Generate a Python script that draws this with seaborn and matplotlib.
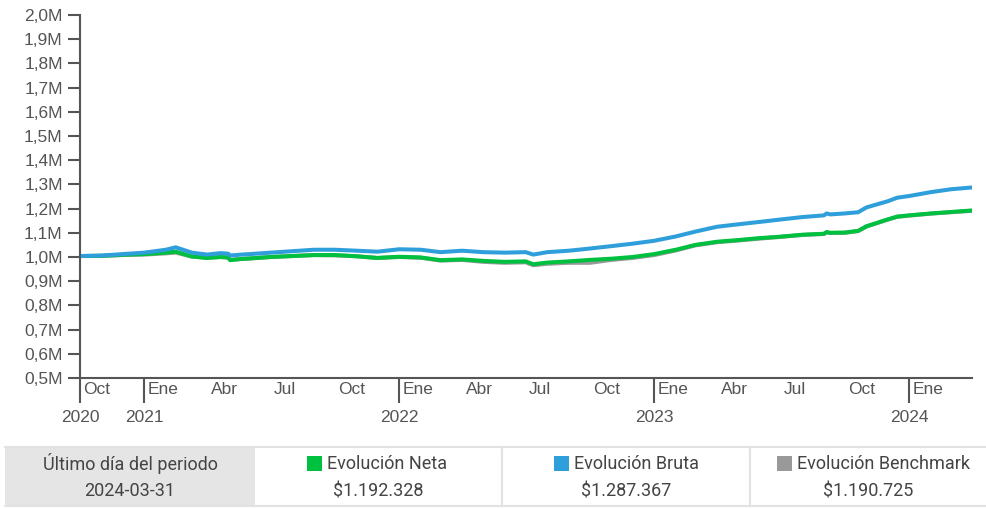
import pandas as pd
import numpy as np
import matplotlib
matplotlib.use("Agg")
import matplotlib.pyplot as plt
from matplotlib.patches import Rectangle
from matplotlib.lines import Line2D
from matplotlib.ticker import FixedLocator, FuncFormatter
from matplotlib.transforms import ScaledTranslation
import seaborn as sns

# valores (millones)
fechas = ["2020-10-01", "2020-11-01", "2020-12-01", "2021-01-01", "2021-02-01",
          "2021-02-15", "2021-03-10", "2021-04-01", "2021-04-20", "2021-05-01",
          "2021-05-04", "2021-05-20", "2021-06-01", "2021-07-01", "2021-08-01",
          "2021-09-01", "2021-10-01", "2021-11-01", "2021-12-01", "2022-01-01",
          "2022-02-01", "2022-03-01", "2022-04-01", "2022-05-01", "2022-06-01",
          "2022-07-01", "2022-07-12", "2022-08-01", "2022-09-01", "2022-10-01",
          "2022-11-01", "2022-12-01", "2023-01-01", "2023-02-01", "2023-03-01",
          "2023-04-01", "2023-05-01", "2023-06-01", "2023-07-01", "2023-08-01",
          "2023-09-01", "2023-09-05", "2023-09-10", "2023-10-01", "2023-10-20",
          "2023-11-01", "2023-12-01", "2023-12-15", "2024-01-01", "2024-02-01",
          "2024-03-01", "2024-03-31"]
bruta = [1.004, 1.006, 1.012, 1.018, 1.030, 1.040, 1.018, 1.010, 1.016, 1.014,
         1.006, 1.010, 1.012, 1.018, 1.024, 1.030, 1.030, 1.026, 1.022, 1.032,
         1.030, 1.020, 1.026, 1.020, 1.018, 1.020, 1.010, 1.020, 1.026, 1.035,
         1.045, 1.055, 1.067, 1.085, 1.105, 1.125, 1.135, 1.145, 1.155, 1.165,
         1.172, 1.180, 1.176, 1.180, 1.185, 1.205, 1.230, 1.245, 1.252, 1.268,
         1.280, 1.287367]
neta = [1.004, 1.005, 1.009, 1.012, 1.018, 1.022, 1.002, 0.996, 1.000, 0.998,
        0.987, 0.992, 0.994, 1.000, 1.004, 1.008, 1.008, 1.003, 0.996, 1.001,
        0.998, 0.987, 0.990, 0.984, 0.980, 0.982, 0.970, 0.977, 0.982, 0.988,
        0.993, 1.000, 1.012, 1.030, 1.050, 1.063, 1.070, 1.078, 1.084, 1.092,
        1.096, 1.103, 1.100, 1.101, 1.108, 1.127, 1.155, 1.167, 1.172, 1.180,
        1.186, 1.192328]
benchmark = [1.004, 1.004, 1.008, 1.010, 1.015, 1.018, 1.002, 0.997, 1.000, 0.998,
             0.988, 0.992, 0.994, 1.000, 1.004, 1.008, 1.007, 1.003, 0.996, 1.000,
             0.997, 0.985, 0.988, 0.980, 0.976, 0.978, 0.966, 0.972, 0.976, 0.976,
             0.988, 0.996, 1.008, 1.027, 1.048, 1.061, 1.068, 1.076, 1.083, 1.091,
             1.095, 1.102, 1.099, 1.100, 1.107, 1.126, 1.154, 1.166, 1.171, 1.179,
             1.185, 1.190725]

series = ["Evolución Benchmark", "Evolución Neta", "Evolución Bruta"]
colores = {"Evolución Neta": "#00c040", "Evolución Bruta": "#2e9fdb",
           "Evolución Benchmark": "#999999"}

meses_pos = ["2020-10-01", "2021-01-01", "2021-04-01", "2021-07-01", "2021-10-01",
             "2022-01-01", "2022-04-01", "2022-07-01", "2022-10-01", "2023-01-01",
             "2023-04-01", "2023-07-01", "2023-10-01", "2024-01-01"]
meses_txt = ["Oct", "Ene", "Abr", "Jul", "Oct", "Ene", "Abr", "Jul", "Oct", "Ene",
             "Abr", "Jul", "Oct", "Ene"]
anios_pos = ["2020-10-01", "2021-01-01", "2022-01-01", "2023-01-01", "2024-01-01"]
anios_txt = ["2020", "2021", "2022", "2023", "2024"]
y_ticks = [0.5, 0.6, 0.7, 0.8, 0.9, 1.0, 1.1, 1.2, 1.3, 1.4, 1.5, 1.6, 1.7, 1.8, 1.9, 2.0]

df = pd.DataFrame({"fecha": pd.to_datetime(fechas),
                   "Evolución Neta": neta,
                   "Evolución Bruta": bruta,
                   "Evolución Benchmark": benchmark})
largo = df.melt(id_vars="fecha", var_name="serie", value_name="valor")

sns.set_style("white")
plt.rcParams["font.family"] = ["Liberation Sans", "DejaVu Sans"]
gris = "#555555"
tam = 12.5

W, H = 987, 508
fig = plt.figure(figsize=(W / 100, H / 100), dpi=100)
ax = fig.add_axes([80 / W, 1 - 378 / H, 892 / W, 363 / H])

sns.lineplot(data=largo, x="fecha", y="valor", hue="serie", hue_order=series,
             palette=colores, linewidth=2.9, legend=False, ax=ax)

ax.set_xlim(pd.Timestamp(fechas[0]), pd.Timestamp(fechas[-1]))
ax.set_ylim(y_ticks[0], y_ticks[-1])
ax.set_xlabel("")
ax.set_ylabel("")
for s in ["top", "right"]:
    ax.spines[s].set_visible(False)
for s in ["left", "bottom"]:
    ax.spines[s].set_color(gris)
    ax.spines[s].set_linewidth(1.5)

ax.yaxis.set_major_locator(FixedLocator(y_ticks))
ax.yaxis.set_major_formatter(FuncFormatter(lambda v, p: f"{v:.1f}M".replace(".", ",")))
ax.tick_params(axis="y", left=True, length=8.5, width=1.5, color=gris, labelsize=tam,
               labelcolor=gris, pad=4)

ax.set_xticks(pd.to_datetime(anios_pos))
ax.set_xticklabels(anios_txt)
ax.tick_params(axis="x", bottom=True, length=18, width=1.5, color=gris, labelsize=tam,
               labelcolor=gris, pad=5)

off = ScaledTranslation(0.035, -0.035, fig.dpi_scale_trans)
for pos, txt in zip(meses_pos, meses_txt):
    ax.text(pd.Timestamp(pos), 0, txt, transform=ax.get_xaxis_transform() + off,
            ha="left", va="top", fontsize=tam, color=gris)

# tabla inferior
def fx(x):
    return x / W

def fy(y):
    return 1 - y / H

borde = "#e2e2e2"
fig.add_artist(Rectangle((fx(5), fy(506)), fx(255) - fx(5), fy(447) - fy(506),
                         transform=fig.transFigure, facecolor="#e5e5e5",
                         edgecolor="none"))
for yy in [447, 506]:
    fig.add_artist(Line2D([fx(5), fx(987)], [fy(yy), fy(yy)], transform=fig.transFigure,
                          color=borde, lw=1.5))
for xx in [502, 750]:
    fig.add_artist(Line2D([fx(xx), fx(xx)], [fy(447), fy(506)], transform=fig.transFigure,
                          color=borde, lw=1.5))

fuente = ["Roboto", "DejaVu Sans"]
texto = "#444444"
tam_tabla = 13
fig.text(fx(130), fy(464), "Último día del periodo", ha="center", va="center",
         fontsize=tam_tabla, color=texto, family=fuente)
fig.text(fx(130), fy(491), fechas[-1], ha="center", va="center",
         fontsize=tam_tabla, color=texto, family=fuente)

celdas = [("Evolución Neta", neta[-1], 378, 307),
          ("Evolución Bruta", bruta[-1], 626, 554),
          ("Evolución Benchmark", benchmark[-1], 868, 777)]
for nombre, valor, centro, cuadro in celdas:
    fig.add_artist(Rectangle((fx(cuadro), fy(471)), fx(15), 15 / H,
                             transform=fig.transFigure, facecolor=colores[nombre],
                             edgecolor="none"))
    fig.text(fx(cuadro + 20), fy(464), nombre, ha="left", va="center",
             fontsize=tam_tabla, color=texto, family=fuente)
    monto = f"${valor * 1e6:,.0f}".replace(",", ".")
    fig.text(fx(centro), fy(491), monto, ha="center", va="center",
             fontsize=tam_tabla, color=texto, family=fuente)

fig.savefig("out.png", dpi=100)
